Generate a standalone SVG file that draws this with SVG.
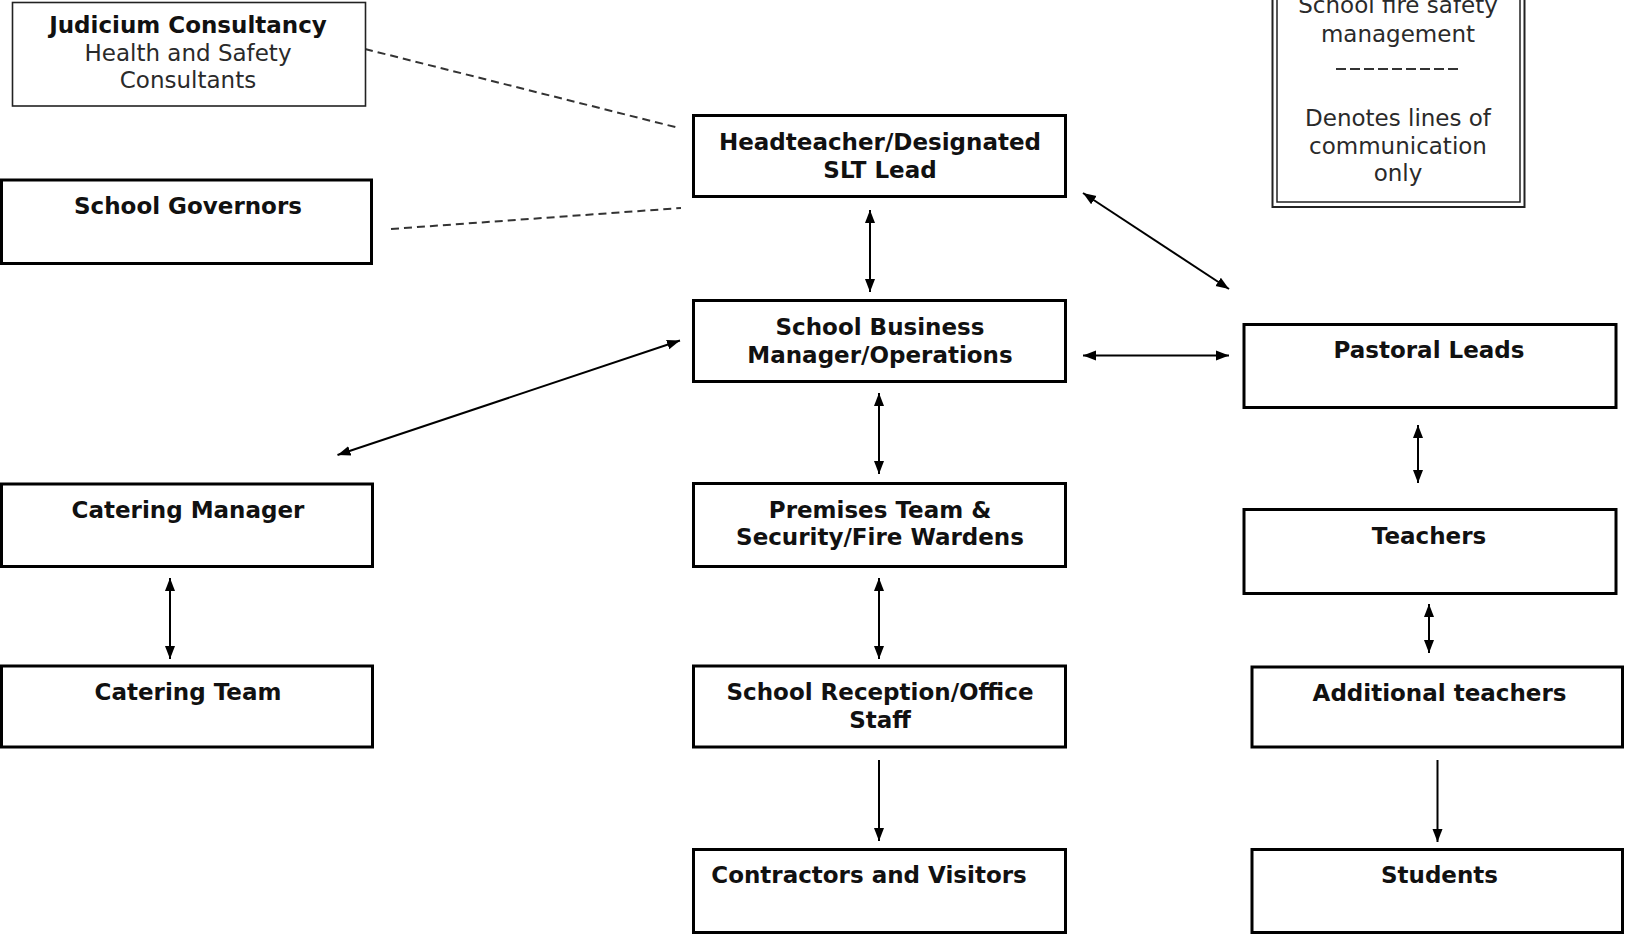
<svg xmlns="http://www.w3.org/2000/svg" width="1625" height="936" viewBox="0 0 1625 936">
<style>
.box{fill:#fff;stroke:#000;stroke-width:3}
.thin{fill:#fff;stroke:#222;stroke-width:1.6}
.t{font-family:"DejaVu Sans",Verdana,sans-serif;font-size:23px;text-anchor:middle}
.b{font-weight:bold;fill:#111}
.r{fill:#2a2a2a}
.arr{stroke:#000;stroke-width:2;fill:none}
.dash{stroke:#333;stroke-width:2;fill:none;stroke-dasharray:8 5}
</style>
<defs>
<marker id="ah" markerUnits="userSpaceOnUse" markerWidth="14" markerHeight="12" refX="13" refY="6" orient="auto-start-reverse">
<path d="M0,1 L13,6 L0,11 z" fill="#000"/>
</marker>
</defs>
<rect width="1625" height="936" fill="#fff"/>

<g id="connectors">
<line class="dash" x1="365" y1="49" x2="679" y2="128"/>
<line class="dash" x1="391" y1="229" x2="681" y2="208"/>
<line class="arr" x1="870" y1="210" x2="870" y2="292" marker-start="url(#ah)" marker-end="url(#ah)"/>
<line class="arr" x1="1083" y1="193" x2="1229" y2="289" marker-start="url(#ah)" marker-end="url(#ah)"/>
<line class="arr" x1="1083" y1="355.5" x2="1229" y2="355.5" marker-start="url(#ah)" marker-end="url(#ah)"/>
<line class="arr" x1="680" y1="340.5" x2="337.5" y2="455" marker-start="url(#ah)" marker-end="url(#ah)"/>
<line class="arr" x1="879" y1="393" x2="879" y2="474" marker-start="url(#ah)" marker-end="url(#ah)"/>
<line class="arr" x1="879" y1="578" x2="879" y2="659" marker-start="url(#ah)" marker-end="url(#ah)"/>
<line class="arr" x1="879" y1="760" x2="879" y2="841" marker-end="url(#ah)"/>
<line class="arr" x1="170" y1="578" x2="170" y2="659" marker-start="url(#ah)" marker-end="url(#ah)"/>
<line class="arr" x1="1418" y1="425" x2="1418" y2="483" marker-start="url(#ah)" marker-end="url(#ah)"/>
<line class="arr" x1="1429" y1="604" x2="1429" y2="653" marker-start="url(#ah)" marker-end="url(#ah)"/>
<line class="arr" x1="1437.5" y1="760" x2="1437.5" y2="842" marker-end="url(#ah)"/>
</g>

<g id="judicium">
<rect class="thin" x="12.5" y="2.5" width="353" height="103.5"/>
<text class="t b" x="188" y="33">Judicium Consultancy</text>
<text class="t r" x="188" y="61">Health and Safety</text>
<text class="t r" x="188" y="88">Consultants</text>
</g>

<g id="governors">
<rect class="box" x="1.5" y="180" width="370" height="83.5"/>
<text class="t b" x="188" y="214">School Governors</text>
</g>

<g id="headteacher">
<rect class="box" x="693.5" y="115.5" width="372" height="81"/>
<text class="t b" x="880" y="150">Headteacher/Designated</text>
<text class="t b" x="880" y="177.5">SLT Lead</text>
</g>

<g id="business">
<rect class="box" x="693.5" y="300.5" width="372" height="81"/>
<text class="t b" x="880" y="335">School Business</text>
<text class="t b" x="880" y="362.5">Manager/Operations</text>
</g>

<g id="pastoral">
<rect class="box" x="1244" y="324.5" width="372" height="83"/>
<text class="t b" x="1429" y="358">Pastoral Leads</text>
</g>

<g id="catering-manager">
<rect class="box" x="1.5" y="484" width="371" height="82.5"/>
<text class="t b" x="188" y="518">Catering Manager</text>
</g>

<g id="premises">
<rect class="box" x="693.5" y="483.5" width="372" height="83"/>
<text class="t b" x="880" y="517.5">Premises Team &amp;</text>
<text class="t b" x="880" y="545">Security/Fire Wardens</text>
</g>

<g id="teachers">
<rect class="box" x="1244" y="509.5" width="372" height="84"/>
<text class="t b" x="1429" y="543.5">Teachers</text>
</g>

<g id="catering-team">
<rect class="box" x="1.5" y="666" width="371" height="81"/>
<text class="t b" x="188" y="700">Catering Team</text>
</g>

<g id="reception">
<rect class="box" x="693.5" y="666" width="372" height="81"/>
<text class="t b" x="880" y="700">School Reception/Office</text>
<text class="t b" x="880" y="727.5">Staff</text>
</g>

<g id="additional-teachers">
<rect class="box" x="1252" y="667" width="370.5" height="80"/>
<text class="t b" x="1439.5" y="700.5">Additional teachers</text>
</g>

<g id="contractors">
<rect class="box" x="693.5" y="849.5" width="372" height="83"/>
<text class="t b" x="869" y="883">Contractors and Visitors</text>
</g>

<g id="students">
<rect class="box" x="1252" y="849.5" width="370.5" height="83"/>
<text class="t b" x="1439.5" y="883">Students</text>
</g>

<g id="legend">
<rect x="1272.5" y="-20" width="252" height="227" fill="#fff" stroke="#222" stroke-width="2"/>
<rect x="1277" y="-20" width="243" height="222" fill="none" stroke="#222" stroke-width="1.5"/>
<text class="t r" x="1398" y="13">School fire safety</text>
<text class="t r" x="1398" y="41.5">management</text>
<line x1="1336" y1="69" x2="1460" y2="69" stroke="#333" stroke-width="2" stroke-dasharray="10 4"/>
<text class="t r" x="1398" y="125.5">Denotes lines of</text>
<text class="t r" x="1398" y="153.5">communication</text>
<text class="t r" x="1398" y="180.5">only</text>
</g>
</svg>
